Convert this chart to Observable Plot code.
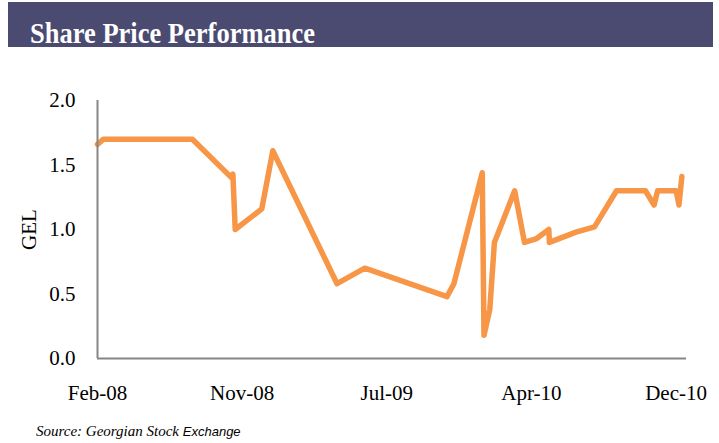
<!DOCTYPE html>
<html>
<head>
<meta charset="utf-8">
<script src="https://cdn.jsdelivr.net/npm/d3@7"></script>
<script src="https://cdn.jsdelivr.net/npm/@observablehq/plot@0.6"></script>
<style>
  html, body { margin: 0; padding: 0; background: #fff; }
  body { width: 719px; height: 443px; position: relative; overflow: hidden; }
  #header { position: absolute; left: 8px; top: 2px; width: 705px; height: 45px; background: #4b4a70; }
  #title { position: absolute; left: 30px; top: 17px; color: #fff; font-family: "Liberation Serif", "Times New Roman", serif; font-weight: bold; font-size: 26.5px; line-height: 30px; white-space: nowrap; transform: scaleY(1.08); transform-origin: left top; }
  #chart { position: absolute; left: 0; top: 50px; }
  #caption { position: absolute; left: 36px; top: 423px; font-family: "Liberation Serif", "Times New Roman", serif; font-style: italic; font-size: 15px; color: #000; white-space: nowrap; }
  #caption .sans { font-family: "Liberation Sans", Arial, sans-serif; font-size: 13px; }
</style>
</head>
<body>
<div id="header"></div>
<div id="title">Share Price Performance</div>
<div id="chart"></div>
<div id="caption">Source: Georgian Stock <span class="sans">Exchange</span></div>
<script>
// Position along the category axis (0 = Feb-08 ... 100 = Dec-10) and price in GEL
const periods = [0, 1.0, 16.4, 23.2, 23.4, 23.8, 28.4, 30.3, 41.4, 46.2, 60.4, 61.6, 66.5, 66.8, 67.8, 68.6, 72.1, 73.8, 75.9, 78.0, 78.1, 82.7, 85.9, 89.7, 94.7, 96.2, 96.8, 100.0, 100.5, 101.0];
const prices  = [1.66, 1.70, 1.70, 1.40, 1.43, 1.00, 1.16, 1.61, 0.58, 0.70, 0.48, 0.58, 1.44, 0.18, 0.38, 0.90, 1.30, 0.90, 0.93, 1.00, 0.90, 0.98, 1.02, 1.30, 1.30, 1.19, 1.30, 1.30, 1.19, 1.41];

const xTickPositions = [0, 25, 50, 75, 100];
const xTickLabels = ["Feb-08", "Nov-08", "Jul-09", "Apr-10", "Dec-10"];
const yTicks = [0, 0.5, 1.0, 1.5, 2.0];

const data = periods.map((p, i) => ({period: p, price: prices[i]}));

const chart = Plot.plot({
  width: 719,
  height: 360,
  marginTop: 50,
  marginBottom: 52,
  marginLeft: 97,
  marginRight: 33,
  style: {fontFamily: "'Liberation Serif', 'Times New Roman', serif", fontSize: "21px", color: "#000", background: "transparent"},
  x: {domain: [0, 101.8]},
  y: {domain: [0, 2]},
  marks: [
    Plot.axisX({ticks: xTickPositions, tickFormat: (d) => xTickLabels[xTickPositions.indexOf(d)], tickSize: 0, tickPadding: 27, label: null}),
    Plot.axisY({ticks: yTicks, tickFormat: d3.format(".1f"), tickSize: 0, tickPadding: 22, label: "GEL", labelAnchor: "center", labelArrow: "none", labelOffset: 76}),
    Plot.line(data, {x: "period", y: "price", stroke: "#F79646", strokeWidth: 5.5, strokeLinejoin: "round", strokeLinecap: "round"}),
    Plot.ruleX([0], {stroke: "#868686", strokeWidth: 2}),
    Plot.ruleY([0], {stroke: "#868686", strokeWidth: 2})
  ]
});
document.getElementById("chart").appendChild(chart);
</script>
</body>
</html>
